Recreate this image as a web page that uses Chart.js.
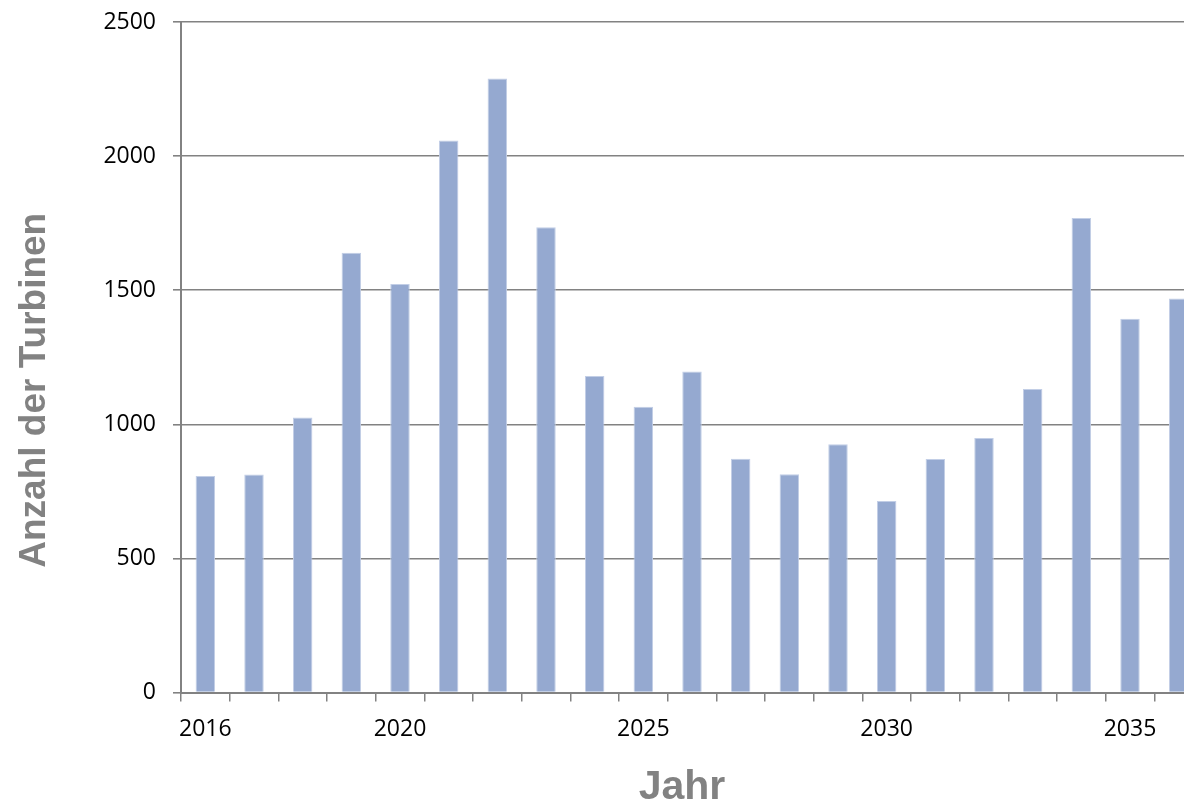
<!DOCTYPE html>
<html lang="de">
<head>
<meta charset="utf-8">
<title>Anzahl der Turbinen je Jahr</title>
<script src="https://cdn.jsdelivr.net/npm/chart.js@4.4.1/dist/chart.umd.min.js"></script>
<style>
  html, body { margin: 0; padding: 0; background: #ffffff; overflow: hidden; }
  #wrap { width: 1203px; height: 800px; }
</style>
</head>
<body>
<div id="wrap"><canvas id="chart" width="1203" height="800"></canvas></div>
<script>
// Jahre und Anzahl der Turbinen pro Jahr
const years = [2016, 2017, 2018, 2019, 2020, 2021, 2022, 2023, 2024, 2025,
               2026, 2027, 2028, 2029, 2030, 2031, 2032, 2033, 2034, 2035, 2036];
const turbines = [807, 813, 1025, 1640, 1523, 2058, 2289, 1735, 1180, 1065,
                  1197, 872, 814, 926, 714, 871, 949, 1132, 1769, 1394, 1469];
// Beschriftete Jahre auf der x-Achse
const labelledYears = [2016, 2020, 2025, 2030, 2035];
// Werte der y-Achse
const yTicks = [0, 500, 1000, 1500, 2000, 2500];

const xTitle = 'Jahr';
const yTitle = 'Anzahl der Turbinen';

const axisGrey = '#828282';
const titleGrey = '#828282';
const tickFont = { family: '"Open Sans", sans-serif', size: 23 };

// Achsentitel selbst zeichnen (y-Titel leicht unterhalb der Mitte)
const axisTitles = {
  id: 'axisTitles',
  afterDraw(chart) {
    const { ctx, chartArea } = chart;
    ctx.save();
    ctx.fillStyle = titleGrey;
    ctx.textAlign = 'center';
    ctx.textBaseline = 'alphabetic';
    ctx.font = 'bold 41px "Liberation Sans", Arial, sans-serif';
    ctx.fillText(xTitle, (chartArea.left + chartArea.right) / 2 - 10, chartArea.bottom + 106);
    ctx.translate(45, (chartArea.top + chartArea.bottom) / 2 + 33);
    ctx.rotate(-Math.PI / 2);
    ctx.font = 'bold 37px "Liberation Sans", Arial, sans-serif';
    ctx.fillText(yTitle, 0, 0);
    ctx.restore();
  }
};

new Chart(document.getElementById('chart'), {
  type: 'bar',
  data: {
    labels: years,
    datasets: [{
      data: turbines,
      backgroundColor: '#95a9d0',
      borderColor: '#c2cee6',
      borderWidth: 1,
      barPercentage: 1,
      categoryPercentage: 0.4
    }]
  },
  options: {
    responsive: false,
    animation: false,
    layout: { padding: { top: 22, right: 0, bottom: 0, left: 0 } },
    plugins: {
      legend: { display: false },
      tooltip: { enabled: false }
    },
    scales: {
      x: {
        afterFit(scale) {
          scale.height = 107.5;
          scale.paddingLeft = 0;
          scale.paddingRight = 0;
        },
        border: { display: true, color: axisGrey, width: 2 },
        grid: {
          display: true,
          offset: true,
          drawOnChartArea: false,
          drawTicks: true,
          tickLength: 9,
          color: axisGrey,
          lineWidth: 1.5
        },
        ticks: {
          autoSkip: false,
          maxRotation: 0,
          padding: 14,
          color: '#000000',
          font: tickFont,
          callback(value, index) {
            const y = years[index];
            return labelledYears.includes(y) ? String(y) : '';
          }
        }
      },
      y: {
        min: 0,
        max: 2500,
        afterFit(scale) {
          scale.width = 181;
          scale.paddingTop = 0;
          scale.paddingBottom = 0;
        },
        afterBuildTicks(scale) { scale.ticks = yTicks.map(v => ({ value: v })); },
        border: { display: true, color: axisGrey, width: 2 },
        grid: {
          color: axisGrey,
          lineWidth: 1.6,
          drawTicks: true,
          tickLength: 8
        },
        ticks: {
          padding: 17,
          color: '#000000',
          font: tickFont,
          callback(value) { return String(value); }
        }
      }
    }
  },
  plugins: [axisTitles]
});
</script>
</body>
</html>
